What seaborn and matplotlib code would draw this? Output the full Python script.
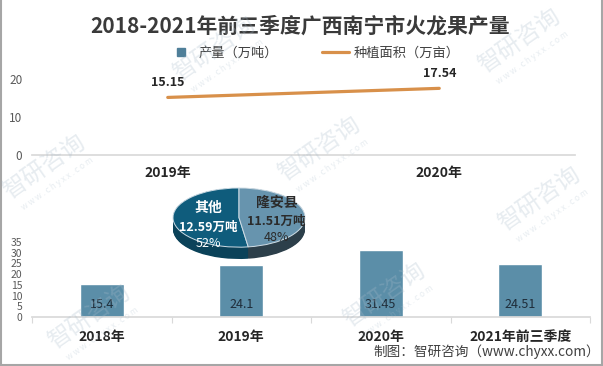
import numpy as np
import pandas as pd
import seaborn as sns
import matplotlib
matplotlib.use('Agg')
import matplotlib.pyplot as plt
from matplotlib.lines import Line2D

# data
bar_years = ["2018年", "2019年", "2020年", "2021年前三季度"]
output = [15.4, 24.1, 31.45, 24.51]          # 产量（万吨）
line_years = ["2019年", "2020年"]
area = [15.15, 17.54]                        # 种植面积（万亩）
pie_names = ["其他", "隆安县"]
pie_values = [12.59, 11.51]                  # 万吨

title = "2018-2021年前三季度广西南宁市火龙果产量"
legend_labels = ["产量（万吨）", "种植面积（万亩）"]
source = "制图：智研咨询（www.chyxx.com）"

BAR_C = "#5b8ea8"
LINE_C = "#d8904a"
PIE_TOP = ["#0f5c7c", "#6794ae"]
PIE_SIDE = ["#0b4259", "#2c3f4a"]
AXIS_C = "#d9d9d9"

W, H = 603, 366


def box(l, t, r, b):
    # pixel box (top-left origin) -> figure fraction
    return [l / W, 1 - b / H, (r - l) / W, (b - t) / H]


sns.set_theme(style="white")
plt.rcParams["font.family"] = ["Noto Sans CJK SC", "DejaVu Sans"]
plt.rcParams["axes.unicode_minus"] = False

fig = plt.figure(figsize=(W / 100, H / 100), dpi=100)

# ---- top: planting area line
ax1 = fig.add_axes(box(32, 79, 575, 155))
ax1.patch.set_alpha(0)
df_line = pd.DataFrame({"year": line_years, "area": area})
sns.lineplot(data=df_line, x="year", y="area", color=LINE_C, lw=2.3, ax=ax1, sort=False)
ax1.set_xlim(-0.5, 1.5)
ax1.set_ylim(0, 20)
ax1.set_yticks([0, 10, 20])
for yr, v in zip(line_years, area):
    ax1.annotate(f"{v:.2f}", (yr, v), xytext=(0, 11), textcoords="offset points",
                 ha="center", va="center", fontsize=9, fontweight="bold", color="#262626")
sns.despine(ax=ax1, left=True)
ax1.spines["bottom"].set_color(AXIS_C)
ax1.tick_params(axis="y", length=0, pad=7, labelsize=8.5, labelcolor="#595959")
ax1.tick_params(axis="x", length=0, pad=8, labelsize=10, labelcolor="#262626")
for t in ax1.get_xticklabels():
    t.set_fontweight("bold")
ax1.set_xlabel("")
ax1.set_ylabel("")

# ---- bottom: output bars
ax2 = fig.add_axes(box(32, 242, 590, 317))
ax2.patch.set_alpha(0)
df_bar = pd.DataFrame({"year": bar_years, "output": output})
sns.barplot(data=df_bar, x="year", y="output", color=BAR_C, saturation=1,
            width=0.315, ax=ax2)
ax2.set_xlim(-0.5, 3.5)
ax2.set_ylim(0, 35)
ax2.set_yticks(range(0, 36, 5))
for i, v in enumerate(output):
    ax2.text(i, 0.16, f"{v:g}", transform=ax2.get_xaxis_transform(),
             ha="center", va="center", fontsize=9, color="#1f2d3a")
sns.despine(ax=ax2, left=True)
ax2.spines["bottom"].set_color(AXIS_C)
ax2.set_xticks(np.arange(-0.5, 4, 1), minor=True)
ax2.tick_params(axis="x", which="minor", bottom=True, length=4, width=0.8, color=AXIS_C)
ax2.tick_params(axis="x", which="major", length=0, pad=9, labelsize=10, labelcolor="#262626")
ax2.tick_params(axis="y", length=0, pad=7, labelsize=7.5, labelcolor="#595959")
for t in ax2.get_xticklabels():
    t.set_fontweight("bold")
ax2.set_xlabel("")
ax2.set_ylabel("")

# ---- 3d-ish pie (隆安县 vs 其他)
axp = fig.add_axes(box(173, 188, 305, 259), zorder=5)
depth = 0.4
for d in np.linspace(depth, 0, 18):
    axp.pie(pie_values, colors=PIE_SIDE, startangle=90, center=(0, -d),
            wedgeprops=dict(linewidth=0))
axp.pie(pie_values, colors=PIE_TOP, startangle=90,
        wedgeprops=dict(edgecolor="#cfdde6", linewidth=0.7))
axp.set_aspect("auto")
axp.set_xlim(-1, 1)
axp.set_ylim(-1 - depth, 1)
total = sum(pie_values)
pie_text_c = ["white", "#2b2b2b"]
pie_text_x = [-0.47, 0.57]
pie_text_y = [(0.32, -0.32, -0.86), (0.49, -0.12, -0.66)]
for name, v, c, x, ys in zip(pie_names, pie_values, pie_text_c, pie_text_x, pie_text_y):
    axp.text(x, ys[0], name, ha="center", va="center", fontsize=10, fontweight="bold", color=c)
    axp.text(x, ys[1], f"{v}万吨", ha="center", va="center", fontsize=9, fontweight="bold", color=c)
    axp.text(x, ys[2], f"{v / total:.0%}", ha="center", va="center", fontsize=9, color=c)

# ---- legend, title, source
handles = [Line2D([], [], marker="s", linestyle="none", markersize=5.5, color="#4f7f99"),
           Line2D([], [], color=LINE_C, lw=2.3)]
fig.legend(handles, legend_labels, loc="center", bbox_to_anchor=(313 / W, 1 - 53 / H),
           ncol=2, frameon=False, fontsize=9.5, handlelength=2.1, handletextpad=0.3,
           columnspacing=3.3, labelcolor="#404040")
fig.text(300 / W, 1 - 26 / H, title, ha="center", va="center", fontsize=15,
         fontweight="bold", color="#3a3a3a")
fig.text(600 / W, 1 - 352 / H, source, ha="right", va="center", fontsize=9.8, color="#404040")

# watermarks
for px, py in [(215, 50), (520, 42), (45, 168), (320, 150), (90, 318), (385, 296), (540, 200)]:
    fig.text(px / W, 1 - py / H, "智研咨询", rotation=35, ha="center", va="center",
             fontsize=17, color="#a9bccb", alpha=0.28, zorder=10)
    fig.text((px + 12) / W, 1 - (py + 16) / H, "w w w . c h y x x . c o m", rotation=35,
             ha="center", va="center", fontsize=6, color="#a9bccb", alpha=0.28, zorder=10)

# frame border
for xs, ys in [([0.001, 0.001], [0, 1]), ([0.998, 0.998], [0, 1]), ([0, 1], [0.003, 0.003])]:
    fig.add_artist(Line2D(xs, ys, transform=fig.transFigure, color="#a6a6a6", lw=1.5))

fig.savefig("out.png", dpi=100)
